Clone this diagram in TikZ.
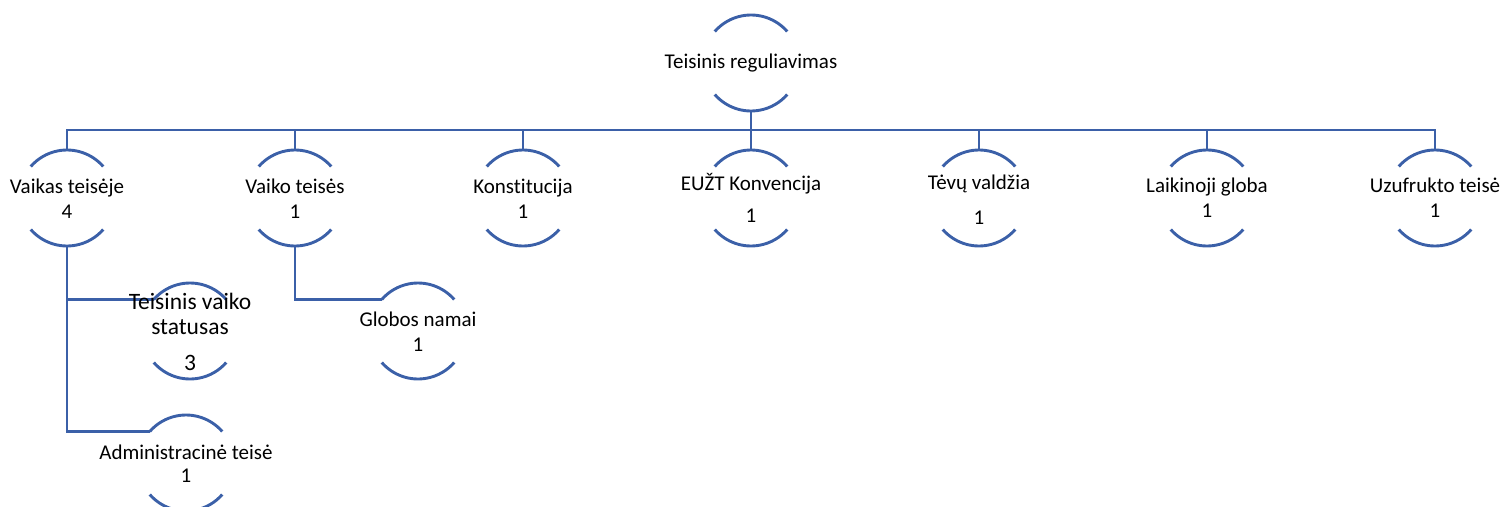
\documentclass[tikz,border=0pt]{standalone}
\usepackage{fontspec}
\setmainfont{Carlito}[Ligatures={NoCommon}]
\begin{document}
\begin{tikzpicture}[x=1pt,y=1pt,
  conn/.style={draw={rgb,255:red,59;green,96;blue,168},line width=2.9pt},
  ring/.style={circle,minimum size=96pt,inner sep=0pt,outer sep=0pt,draw=none},
  lbl/.style={align=center,inner sep=0pt,font=\fontsize{21}{25}\selectfont,text=black}]
\useasboundingbox (0,0) rectangle (1504,-506);
% circle placeholders
\node[ring] (c0) at (751,-63) {};
\node[ring] (c1) at (67,-198) {};
\node[ring] (c2) at (295,-198) {};
\node[ring] (c3) at (523,-198) {};
\node[ring] (c4) at (751,-198) {};
\node[ring] (c5) at (979,-198) {};
\node[ring] (c6) at (1207,-198) {};
\node[ring] (c7) at (1435,-198) {};
\node[ring] (s1) at (190,-331) {};
\node[ring] (g1) at (418,-331) {};
\node[ring] (a1) at (186,-463) {};
% arcs
\foreach \n in {c0,c1,c2,c3,c4,c5,c6,c7,s1,g1,a1}{
  \draw[conn] (\n.41) arc[start angle=41,end angle=139,radius=48pt];
  \draw[conn] (\n.221) arc[start angle=221,end angle=319,radius=48pt];
}
% connectors
\coordinate (bus) at (751,-130);
\draw[conn] (c0.south) -- (bus);
\draw[conn] (c1.north) |- (bus) -| (c7.north);
\foreach \n in {c2,c3,c4,c5,c6}{
  \draw[conn] (\n.north) -- (\n.north |- bus);
}
\draw[conn] (c1.south) |- (a1.139);
\draw[conn] (c1.south |- s1.139) -- (s1.139);
\draw[conn] (c2.south) |- (g1.139);
% texts
\node[lbl] (t0) at (751,-63) {Teisinis reguliavimas};
\node[lbl] (t1) at (67,-198.5) {Vaikas teisėje\\4};
\node[lbl] (t2) at (295,-198.5) {Vaiko teisės\\1};
\node[lbl] (t3) at (523,-198.5) {Konstitucija\\1};
\node[lbl] (t4) at (751,-198) {EUŽT Konvencija\\[7pt]1};
\node[lbl] (t5) at (979,-199.5) {Tėvų valdžia\\[10pt]1};
\node[lbl] (t6) at (1207,-197.5) {Laikinoji globa\\1};
\node[lbl] (t7) at (1435,-197.5) {Uzufrukto teisė\\1};
\node[lbl,font=\fontsize{23.5}{25}\selectfont] (ts) at (190,-332) {Teisinis vaiko\\statusas\\[11pt]3};
\node[lbl] (tg) at (418,-332) {Globos namai\\1};
\node[lbl] (ta) at (186,-464) {Administracinė teisė\\[-2pt]1};
\end{tikzpicture}
\end{document}
